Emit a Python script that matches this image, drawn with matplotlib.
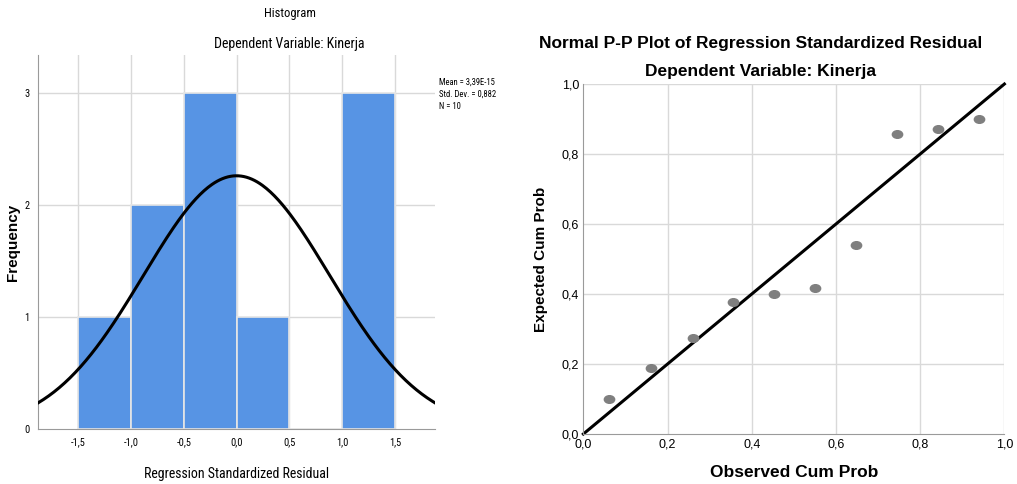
import numpy as np
import matplotlib
matplotlib.use("Agg")
import matplotlib.pyplot as plt
from matplotlib import font_manager
from matplotlib.markers import MarkerStyle
from matplotlib.transforms import Affine2D

# histogram data
bin_edges = [-1.5, -1.0, -0.5, 0.0, 0.5, 1.0, 1.5]
freqs = [1, 2, 3, 1, 0, 3]
mean_val = 3.39e-15
std_val = 0.882
n_obs = 10
stats_text = ["Mean = 3,39E-15", "Std. Dev. = 0,882", "N = 10"]

# P-P plot data
observed = [0.06, 0.16, 0.26, 0.355, 0.453, 0.55, 0.648, 0.745, 0.842, 0.94]
expected = [0.10, 0.19, 0.273, 0.376, 0.40, 0.417, 0.539, 0.858, 0.872, 0.899]

# pick a condensed face if there is one
names = {f.name for f in font_manager.fontManager.ttflist}
narrow_font = "DejaVu Sans"
for cand in ["Liberation Sans Narrow", "DejaVu Sans Condensed", "Roboto Condensed", "Open Sans Condensed"]:
    if cand in names:
        narrow_font = cand
        break
narrow = [narrow_font, "DejaVu Sans"]
narrow_stretch = "condensed"
arial = ["Liberation Sans", "DejaVu Sans"]
grid_c = "#d9d9d9"
spine_c = "#9a9a9a"

def comma(v):
    return f"{v:.1f}".replace(".", ",")

fig = plt.figure(figsize=(10.17, 4.84), dpi=100)

# ---- histogram ----
ax1 = fig.add_axes([0.0374, 0.1136, 0.3904, 0.7727])
ax1.set_xlim(-1.88, 1.88)
ax1.set_ylim(0, 3.34)
xt = [-1.5, -1.0, -0.5, 0.0, 0.5, 1.0, 1.5]
for v in xt:
    ax1.axvline(v, color=grid_c, lw=1, zorder=0)
for v in [1, 2, 3]:
    ax1.axhline(v, color=grid_c, lw=1, zorder=0)
lefts = bin_edges[:-1]
widths = np.diff(bin_edges)
ax1.bar(lefts, freqs, width=widths, align="edge", color="#5794e4",
        edgecolor="#e6e6e6", linewidth=1.2, zorder=2)
xs = np.linspace(-1.88, 1.88, 300)
bw = bin_edges[1] - bin_edges[0]
ys = n_obs * bw / (std_val * np.sqrt(2 * np.pi)) * np.exp(-0.5 * ((xs - mean_val) / std_val) ** 2)
ax1.plot(xs, ys, color="black", lw=2.2, zorder=3)
ax1.set_xticks(xt)
ax1.set_xticklabels([comma(v) for v in xt], family=narrow, fontsize=7.5, fontstretch=narrow_stretch)
ax1.set_yticks([0, 1, 2, 3])
ax1.set_yticklabels(["0", "1", "2", "3"], family=narrow, fontsize=7.5, fontstretch=narrow_stretch)
ax1.tick_params(length=0, pad=6)
for s in ["top", "right"]:
    ax1.spines[s].set_visible(False)
for s in ["left", "bottom"]:
    ax1.spines[s].set_color(spine_c)
ax1.set_xlabel("Regression Standardized Residual", family=narrow, fontsize=10,
               fontstretch=narrow_stretch, labelpad=14)
ax1.set_ylabel("Frequency", family=arial, fontweight="bold", fontsize=11)
ax1.yaxis.set_label_coords(-0.045, 0.5)
fig.text(0.2847, 0.972, "Histogram", family=narrow, fontsize=9, fontstretch=narrow_stretch,
         ha="center", va="center")
fig.text(0.2847, 0.91, "Dependent Variable: Kinerja", family=narrow, fontsize=10,
         fontstretch=narrow_stretch, ha="center", va="center")
fig.text(0.432, 0.84, "\n".join(stats_text), family=narrow, fontsize=6.2,
         fontstretch=narrow_stretch, ha="left", va="top", linespacing=1.45)

# ---- P-P plot ----
ax2 = fig.add_axes([0.5736, 0.1033, 0.414, 0.7231])
ax2.set_xlim(0, 1)
ax2.set_ylim(0, 1)
ticks = [0.0, 0.2, 0.4, 0.6, 0.8, 1.0]
for v in ticks[1:]:
    ax2.axvline(v, color=grid_c, lw=1, zorder=0)
    ax2.axhline(v, color=grid_c, lw=1, zorder=0)
ax2.plot([0, 1], [0, 1], color="black", lw=2.2, zorder=2, clip_on=False)
ellipse = MarkerStyle("o", transform=Affine2D().scale(1.35, 1.0))
ax2.plot(observed, expected, linestyle="none", marker=ellipse, color="#7f7f7f",
         markersize=5.5, zorder=3)
ax2.set_xticks(ticks)
ax2.set_xticklabels([comma(v) for v in ticks], family=arial, fontsize=9)
ax2.set_yticks(ticks)
ax2.set_yticklabels([comma(v) for v in ticks], family=arial, fontsize=9)
ax2.tick_params(length=0, pad=3)
for s in ["top", "right"]:
    ax2.spines[s].set_visible(False)
for s in ["left", "bottom"]:
    ax2.spines[s].set_color(spine_c)
ax2.set_xlabel("Observed Cum Prob", family=arial, fontweight="bold", fontsize=12.5, labelpad=11)
ax2.set_ylabel("Expected Cum Prob", family=arial, fontweight="bold", fontsize=11, labelpad=10)
fig.text(0.748, 0.91, "Normal P-P Plot of Regression Standardized Residual", family=arial,
         fontweight="bold", fontsize=12.5, ha="center", va="center")
fig.text(0.748, 0.852, "Dependent Variable: Kinerja", family=arial,
         fontweight="bold", fontsize=12.5, ha="center", va="center")

fig.savefig("out.png", dpi=100, facecolor="white")
